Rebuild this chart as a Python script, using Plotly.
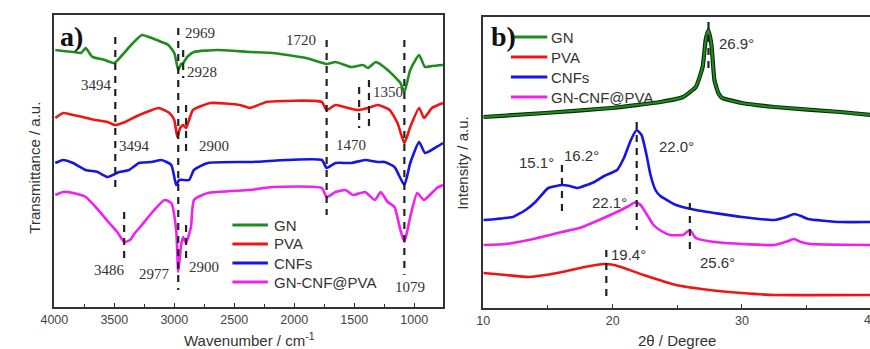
import plotly.graph_objects as go

W, H = 870, 349

# ---------------- Panel a: FTIR (wavenumber, transmittance a.u.) ----------------
gn_a_w = [3992, 3926, 3844, 3778, 3738, 3697, 3680, 3580, 3500, 3434, 3352, 3270, 3189, 3107, 3049, 3000,
          2967, 2943, 2926, 2893, 2836, 2639, 2369, 2180, 1902, 1730, 1656, 1525, 1426, 1385, 1320, 1221,
          1115, 1082, 1033, 959, 910, 852, 760]
gn_a_t = [257, 256, 255, 254, 259, 252, 250, 247, 244, 252, 263, 272, 269, 265, 262, 254,
          237, 243, 244, 250, 255, 257, 255, 254, 249, 243, 245, 240, 242, 239, 245, 237,
          224, 215, 237, 252, 240, 241, 242]

pva_w = [3992, 3926, 3844, 3762, 3656, 3557, 3492, 3410, 3328, 3230, 3131, 3041, 3000, 2975, 2951, 2926,
         2902, 2877, 2844, 2697, 2451, 2369, 2230, 1770, 1730, 1656, 1549, 1467, 1385, 1303, 1205, 1139,
         1082, 1033, 959, 918, 852, 760]
pva_t = [189, 194, 192, 190, 187, 185, 182, 185, 190, 195, 199, 194, 187, 170, 179, 182,
         179, 187, 197, 204, 202, 199, 205, 205, 197, 202, 199, 197, 199, 202, 197, 184,
         164, 180, 199, 189, 199, 204]

cnf_a_w = [3992, 3926, 3844, 3738, 3639, 3557, 3459, 3377, 3295, 3189, 3107, 3025, 2984, 2959, 2877, 2836,
           2721, 2369, 1770, 1730, 1656, 1525, 1410, 1303, 1246, 1164, 1082, 1033, 959, 910, 828, 760]
cnf_a_t = [144, 147, 144, 137, 135, 130, 135, 137, 144, 145, 147, 142, 122, 127, 127, 137,
           144, 145, 147, 139, 144, 144, 147, 145, 145, 140, 122, 144, 165, 154, 159, 164]

mix_a_w = [3992, 3926, 3844, 3738, 3656, 3541, 3475, 3418, 3369, 3328, 3270, 3189, 3082, 3025, 2984, 2967,
           2943, 2926, 2902, 2861, 2836, 2721, 2369, 2180, 1770, 1730, 1656, 1574, 1508, 1410, 1328, 1279,
           1221, 1164, 1115, 1082, 1033, 975, 918, 811, 760]
mix_a_t = [112, 115, 114, 110, 100, 84, 75, 65, 67, 74, 82, 94, 107, 104, 77, 35,
           62, 70, 64, 80, 107, 114, 117, 120, 119, 110, 115, 117, 112, 115, 107, 115,
           105, 100, 77, 65, 90, 114, 107, 119, 122]

# dashed marker lines panel a: (wavenumber, t_start, t_end)
marks_a = [(3492, 270, 114), (2967, 279, 17), (2926, 257, 229), (2902, 202, 152), (2902, 82, 49),
           (3418, 95, 49), (1730, 267, 92), (1459, 220, 179), (1377, 227, 175), (1082, 267, 32)]
labels_a = [("2969", 2787, 274), ("2928", 2770, 235), ("3494", 3648, 222), ("3494", 3328, 161),
            ("2900", 2672, 161), ("1720", 1943, 267), ("1350", 1221, 215), ("1470", 1525, 162),
            ("3486", 3541, 37), ("2977", 3164, 33), ("2900", 2754, 40), ("1079", 1033, 20)]

# ---------------- Panel b: XRD (2theta, intensity a.u.) ----------------
gn_b_x = [10.0, 14.79, 19.89, 23.69, 25.44, 26.43, 26.96, 27.19, 27.41, 27.64, 27.87, 28.17, 28.48, 30.0,
          32.51, 37.60, 40.0]
gn_b_y = [191, 195, 200, 206, 211, 221, 241, 268, 278, 263, 228, 215, 210, 205, 201, 196, 193]

cnf_b_x = [10.0, 10.99, 12.28, 13.27, 14.03, 15.02, 16.08, 16.69, 17.30, 18.59, 19.35, 20.34, 20.87, 21.41,
           21.86, 22.24, 22.62, 22.93, 23.31, 23.69, 24.90, 26.43, 30.0, 32.51, 33.42, 34.03, 34.56, 35.10,
           37.60, 40.0]
cnf_b_y = [88, 89, 91, 98, 106, 120, 123, 122, 120, 126, 132, 138, 150, 168,
           178, 173, 153, 133, 118, 112, 103, 98, 91, 88, 91, 94, 92, 89,
           86, 86]

mix_b_x = [10.0, 11.75, 13.50, 16.08, 17.45, 18.59, 20.34, 21.25, 21.79, 22.17, 22.62, 23.16, 23.76, 24.45,
           25.44, 25.97, 26.43, 27.34, 28.71, 32.51, 33.57, 34.03, 34.56, 35.32, 40.0]
mix_b_y = [63, 64, 68, 76, 80, 86, 96, 102, 106, 103, 94, 83, 77, 73,
           73, 78, 70, 67, 65, 63, 67, 69, 66, 64, 63]

pva_b_x = [10.0, 11.75, 13.50, 14.79, 16.08, 17.83, 19.35, 20.11, 20.87, 22.40, 24.90, 27.49, 30.0, 32.51, 40.0]
pva_b_y = [35, 33, 31, 33, 36, 41, 44, 43, 40, 33, 23, 18, 15, 13, 13]

marks_b = [(27.41, 286, 236), (21.86, 186, 78), (16.08, 143, 95), (25.97, 105, 53), (19.51, 58, 11)]
labels_b = [("26.9°", 29.54, 265), ("22.0°", 24.90, 162), ("15.1°", 14.11, 146), ("16.2°", 17.60, 153),
            ("22.1°", 19.73, 106), ("25.6°", 28.10, 46), ("19.4°", 21.25, 54)]

names = ["GN", "PVA", "CNFs", "GN-CNF@PVA"]
colors = ["#1e8c1e", "#f01515", "#1515e6", "#f020f0"]

def px(x):
    return x / W

def py(y):
    return (H - y) / H

fig = go.Figure()
LW = 2.6
for xs, ys, c in [(gn_a_w, gn_a_t, colors[0]), (pva_w, pva_t, colors[1]),
                  (cnf_a_w, cnf_a_t, colors[2]), (mix_a_w, mix_a_t, colors[3])]:
    fig.add_trace(go.Scatter(x=xs, y=ys, mode="lines", line=dict(color=c, width=LW, shape="spline", smoothing=0.5),
                             xaxis="x", yaxis="y", showlegend=False, hoverinfo="skip"))

fig.add_trace(go.Scatter(x=gn_b_x, y=gn_b_y, mode="lines", line=dict(color="#0b2a0b", width=4.2, shape="spline", smoothing=0.4),
                         xaxis="x2", yaxis="y2", showlegend=False, hoverinfo="skip"))
for xs, ys, c, w in [(gn_b_x, gn_b_y, colors[0], 2.0), (pva_b_x, pva_b_y, colors[1], LW),
                     (cnf_b_x, cnf_b_y, colors[2], LW), (mix_b_x, mix_b_y, colors[3], LW)]:
    fig.add_trace(go.Scatter(x=xs, y=ys, mode="lines", line=dict(color=c, width=w, shape="spline", smoothing=0.4),
                             xaxis="x2", yaxis="y2", showlegend=False, hoverinfo="skip"))

shapes = []
for x, y0, y1 in marks_a:
    shapes.append(dict(type="line", xref="x", yref="y", x0=x, x1=x, y0=y0, y1=y1,
                       line=dict(color="#222222", width=2.2, dash="7px,6px")))
for x, y0, y1 in marks_b:
    shapes.append(dict(type="line", xref="x2", yref="y2", x0=x, x1=x, y0=y0, y1=y1,
                       line=dict(color="#222222", width=2.2, dash="7px,6px")))

annotations = []
def ann(text, x, y, xref="paper", yref="paper", xanchor="center", size=15, family="Liberation Sans",
        color="#333333", angle=0):
    annotations.append(dict(text=text, x=x, y=y, xref=xref, yref=yref, xanchor=xanchor, yanchor="middle",
                            showarrow=False, textangle=angle, font=dict(family=family, size=size, color=color)))

for t, x, y in labels_a:
    ann(t, x, y, "x", "y", family="Liberation Serif")
for t, x, y in labels_b:
    ann(t, x, y, "x2", "y2")

# legends (manual, matching the reference placement)
for i, (n, c) in enumerate(zip(names, colors)):
    ya = 225 + 19 * i
    shapes.append(dict(type="line", xref="paper", yref="paper", x0=px(222), x1=px(258), y0=py(ya), y1=py(ya),
                       line=dict(color=c, width=3)))
    ann(n, px(262), py(ya), xanchor="left")
    yb = 37 + 20 * i
    shapes.append(dict(type="line", xref="paper", yref="paper", x0=px(505), x1=px(542), y0=py(yb), y1=py(yb),
                       line=dict(color=c, width=3)))
    ann(n, px(544), py(yb), xanchor="left")

ann("<b>a)</b>", px(58), py(36), size=28, family="Liberation Serif", color="#111111")
ann("<b>b)</b>", px(497), py(36), size=28, family="Liberation Serif", color="#111111")
ann("Transmittance / a.u.", px(20), py(168), angle=-90)
ann("Intensity / a.u.", px(456), py(163), angle=-90)
ann("Wavenumber / cm<sup>-1</sup>", px(239), py(339))
ann("2θ / Degree", px(674), py(340))
ann("40", px(871), py(320), size=12.5, color="#444444")

axis_common = dict(showline=True, linecolor="#333333", linewidth=1.5, showgrid=False, zeroline=False,
                   ticks="inside", ticklen=4, tickcolor="#333333", tickwidth=1.3,
                   tickfont=dict(family="Liberation Sans", size=12.5, color="#444444"))

fig.update_layout(
    width=W, height=H, margin=dict(l=0, r=0, t=0, b=0),
    paper_bgcolor="white", plot_bgcolor="white",
    xaxis=dict(domain=[px(41), px(436)], range=[4000, 760], tickvals=[4000, 3500, 3000, 2500, 2000, 1500, 1000],
               mirror=True, anchor="y",
               minor=dict(ticks="inside", dtick=250, tick0=0, ticklen=3, tickcolor="#333333", tickwidth=1.2),
               **axis_common),
    yaxis=dict(domain=[py(307), py(15)], range=[0, 292], showticklabels=False, ticks="", mirror=True,
               showline=True, linecolor="#333333", linewidth=1.5, showgrid=False, zeroline=False, anchor="x"),
    xaxis2=dict(domain=[px(477), 1.0], range=[10, 39.9], tickvals=[10, 20, 30], mirror=True, anchor="y2",
                minor=dict(ticks="inside", dtick=5, tick0=0, ticklen=3, tickcolor="#333333", tickwidth=1.2),
                **axis_common),
    yaxis2=dict(domain=[py(308), py(17)], range=[0, 291], showticklabels=False, ticks="", mirror=False,
                showline=True, linecolor="#333333", linewidth=1.5, showgrid=False, zeroline=False, anchor="x2"),
    shapes=shapes, annotations=annotations,
)

fig.write_html("out.html")
